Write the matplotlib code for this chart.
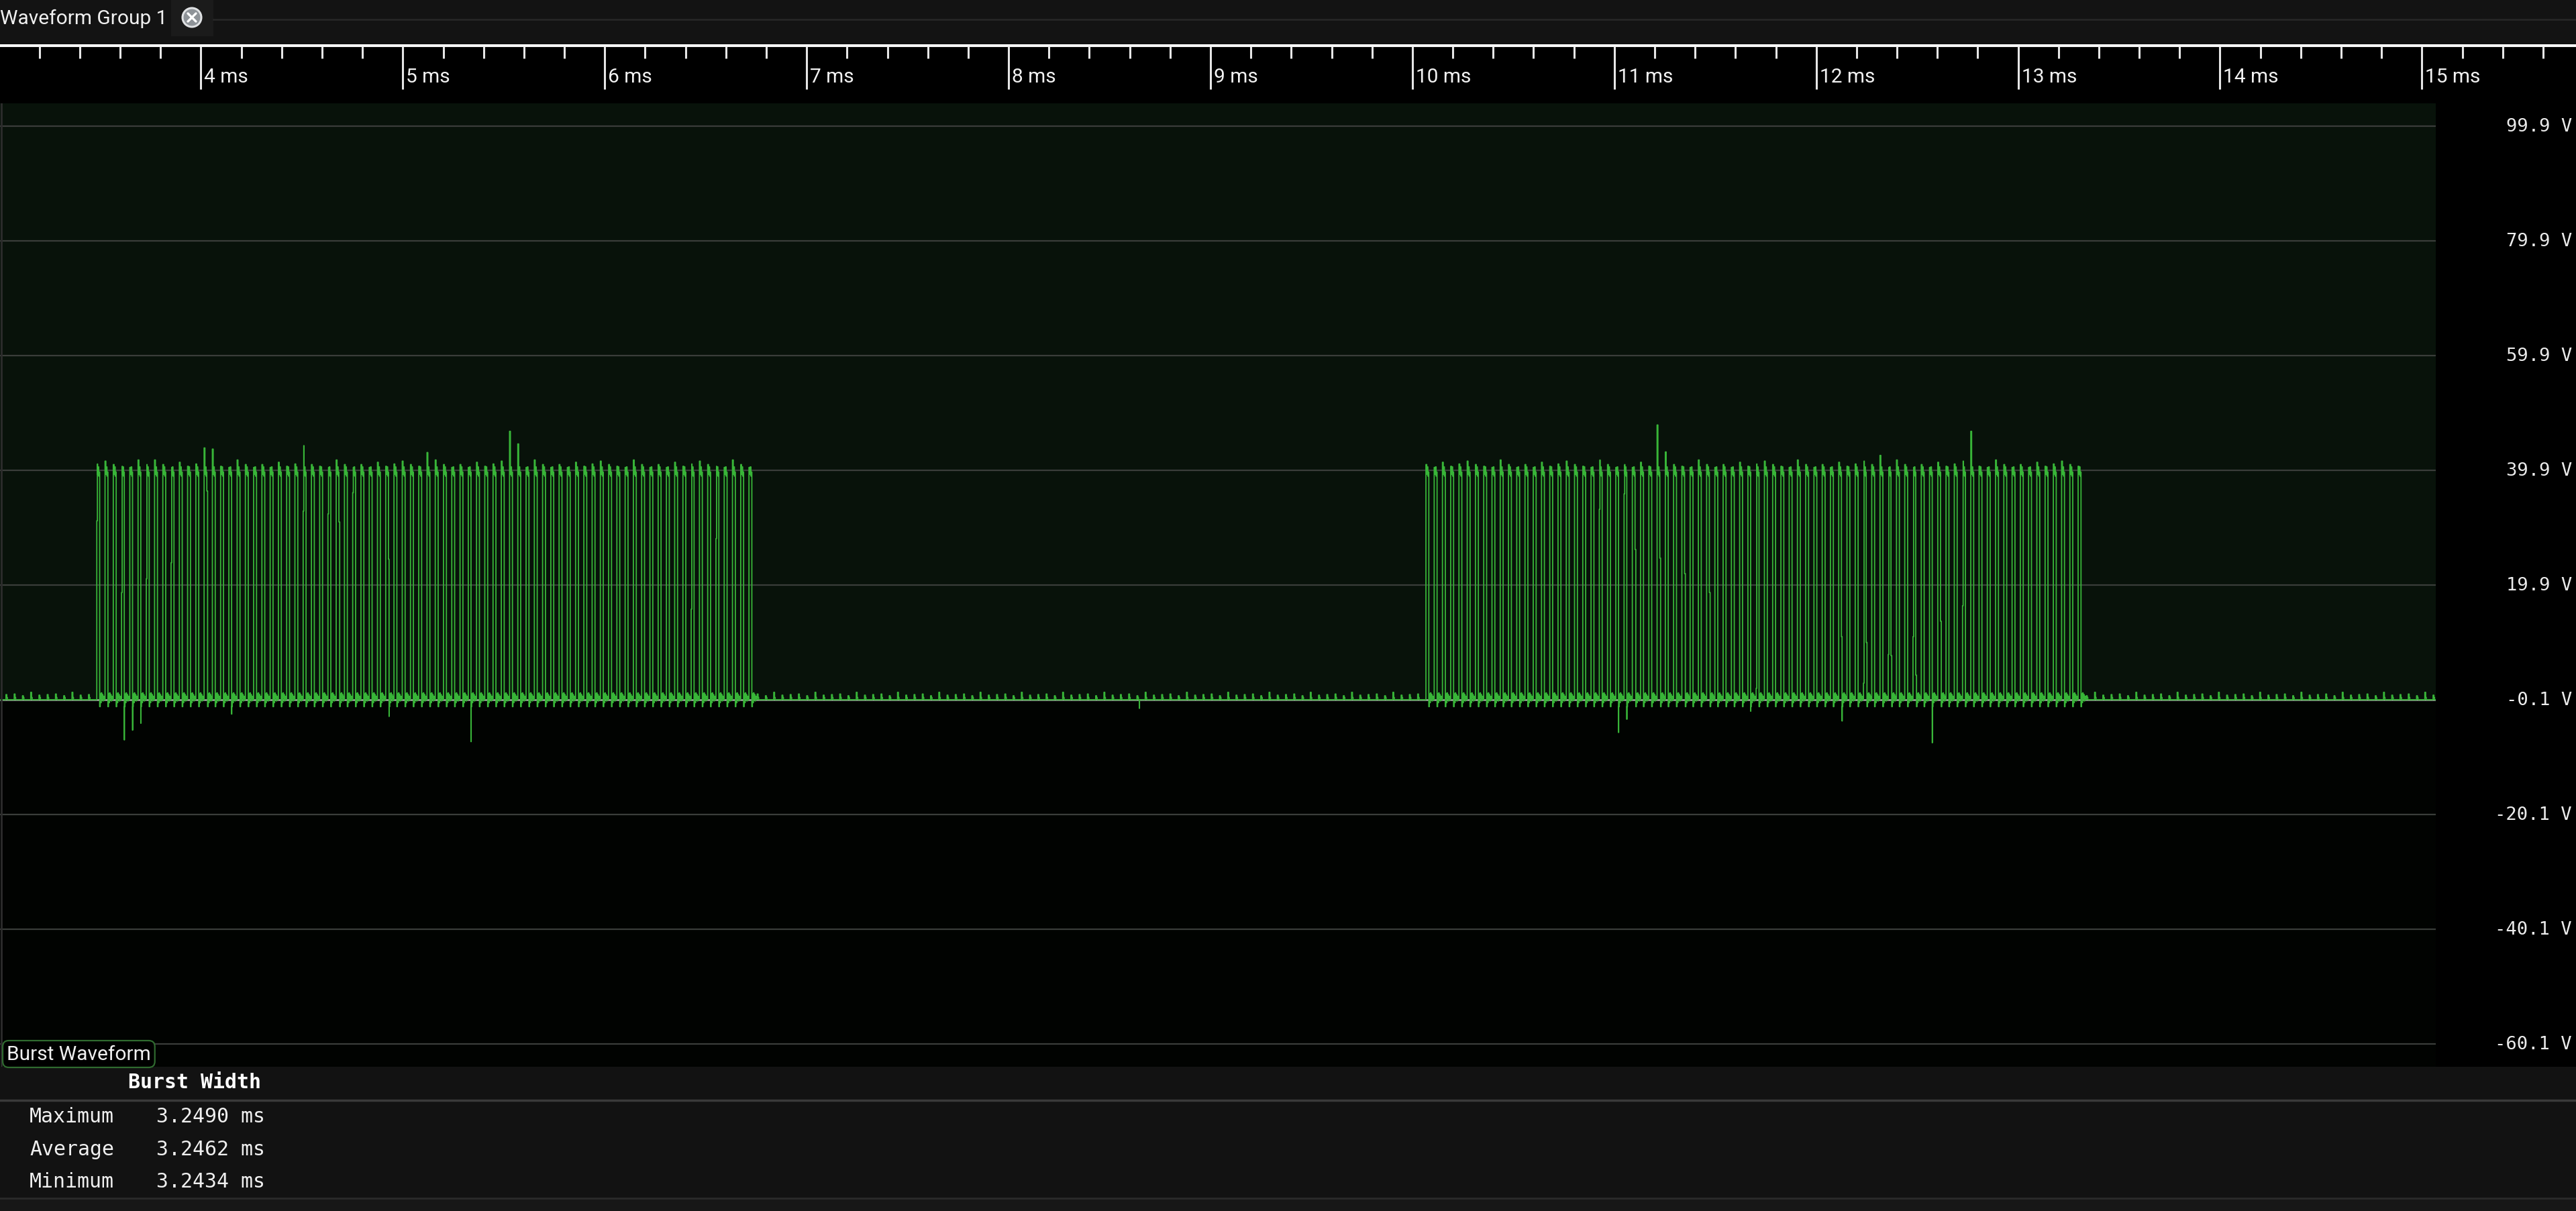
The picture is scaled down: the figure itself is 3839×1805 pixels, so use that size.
import numpy as np
import matplotlib
matplotlib.use('Agg')
import matplotlib.pyplot as plt
from matplotlib.patches import Rectangle, Circle
from matplotlib.transforms import blended_transform_factory

W, H, DPI = 3839, 1806, 100

# ---- values ----
time_ticks_ms = [4, 5, 6, 7, 8, 9, 10, 11, 12, 13, 14, 15]
volt_ticks = [99.9, 79.9, 59.9, 39.9, 19.9, -0.1, -20.1, -40.1, -60.1]

burst_start_ms = [3.484, 10.067]
pulses_per_burst = [80, 80]
carrier_period_ms = 0.040888
pulse_high_ms = 0.0135
base_v = -0.1

# pulse tops (V) seen along burst 1, reused in turn
top_peak_v = [41.0, 41.5, 40.9, 40.6, 40.4, 41.7, 40.9, 40.4, 40.9, 40.4, 41.3, 40.6]
top_ripple_v = [39.2, 40.5, 38.9, 39.6]
ring_v = [-1.3, 0.9, -0.6, 1.1, 0.2, 0.8, -0.3, 0.5]
idle_blip_v = [0.9, 0.6, 1.2, 0.7, 0.8]

# overshoot spikes on pulse tops
spike_ms = [3.766, 4.011, 4.05, 4.503, 5.11, 5.527, 5.567, 11.213, 11.25, 12.32, 12.767]
spike_v = [41.7, 43.8, 43.6, 44.2, 43.0, 46.7, 44.5, 47.8, 43.1, 42.5, 46.7]

# negative spikes after falling edges
dip_ms = [3.614, 3.657, 3.697, 4.147, 4.927, 5.34, 8.64, 11.026, 11.065, 11.68, 12.13, 12.573]
dip_v = [-7.1, -5.4, -4.2, -2.6, -3.0, -7.4, -1.6, -5.8, -3.5, -2.1, -3.8, -7.6]

# edges caught half way by a sample: (burst, pulse index, level)
rise_kink_burst = [0, 0, 0, 0, 0, 0, 0, 0, 0, 1, 1, 1, 1, 1, 1, 1]
rise_kink_pulse = [0, 3, 6, 9, 25, 28, 31, 72, 75, 21, 24, 40, 53, 56, 59, 65]
rise_kink_v = [31.1, 18.6, 21.0, 23.8, 32.8, 32.3, 36.0, 15.7, 28.0, 33.1, 35.8, 1.9, 2.8, 7.8, 10.9, 16.3]
fall_kink_burst = [0, 0, 0, 1, 1, 1, 1, 1, 1, 1, 1, 1]
fall_kink_pulse = [13, 29, 35, 25, 28, 31, 34, 50, 53, 56, 59, 62]
fall_kink_v = [36.3, 30.9, 24.4, 26.1, 24.6, 21.9, 18.6, 10.9, 9.9, 7.6, 4.2, 13.6]

stat_names = ['Maximum', 'Average', 'Minimum']
stat_ms = [3.2490, 3.2462, 3.2434]

# ---- screen geometry (pixels) ----
px_per_ms = 300.9
x_4ms = 299.5
t_left = 4 - x_4ms / px_per_ms
plot_right = 3630
zero_y, px_per_v = 1044, 8.55
plot_top, plot_bot = 155, 1591
v_top = base_v + (zero_y - plot_top) / px_per_v
v_bot = v_top - (plot_bot - plot_top) / px_per_v
t_right = t_left + plot_right / px_per_ms

GREEN = '#38b538'
UI_FONT = 21.5


def px_axes(x0, y0, x1, y1, **kw):
    return fig.add_axes([x0 / W, 1 - y1 / H, (x1 - x0) / W, (y1 - y0) / H], **kw)


def bare(ax):
    ax.set_xticks([])
    ax.set_yticks([])
    for s in ax.spines.values():
        s.set_visible(False)


# ---- build the trace ----
def kink(bursts, pulses, levels, b, i):
    for bb, pp, lv in zip(bursts, pulses, levels):
        if bb == b and pp == i:
            return lv
    return None


T = carrier_period_ms
ts, vs = [t_left], [base_v]
k0 = int(np.floor((t_left - burst_start_ms[0]) / T))
k1 = int(np.ceil((t_right - burst_start_ms[0]) / T))
n_pulse = 0
for k in range(k0, k1 + 1):
    t0 = burst_start_ms[0] + k * T
    hit = None
    for b, (s, n) in enumerate(zip(burst_start_ms, pulses_per_burst)):
        i = int(round((t0 - s) / T))
        if 0 <= i < n:
            hit = (b, i)
            t0 = s + i * T
    dip = None
    for dm, dv in zip(dip_ms, dip_v):
        if t0 <= dm < t0 + T:
            dip = dv
    if hit is None:
        blip = idle_blip_v[k % len(idle_blip_v)]
        ts += [t0, t0 + 0.004, t0 + 0.007]
        vs += [blip, base_v + 0.4, base_v]
        if dip is not None:
            ts += [t0 + 0.012, t0 + 0.0125]
            vs += [dip, base_v]
        continue
    b, i = hit
    peak = top_peak_v[n_pulse % len(top_peak_v)]
    n_pulse += 1
    for sm, sv in zip(spike_ms, spike_v):
        if t0 - T / 2 <= sm < t0 + T / 2:
            peak = sv
    rk = kink(rise_kink_burst, rise_kink_pulse, rise_kink_v, b, i)
    if rk is not None:
        ts += [t0, t0 + 0.003]
        vs += [rk, peak]
    else:
        ts.append(t0)
        vs.append(peak)
    for f, r in zip([0.3, 0.5, 0.7, 0.85], top_ripple_v):
        ts.append(t0 + pulse_high_ms * f)
        vs.append(r)
    t1 = t0 + pulse_high_ms
    fk = kink(fall_kink_burst, fall_kink_pulse, fall_kink_v, b, i)
    if fk is not None:
        ts.append(t1)
        vs.append(fk)
        t1 += 0.003
    if dip is not None:
        ts += [t1, t1 + 0.0008]
        vs += [dip, ring_v[0]]
    for j, r in enumerate(ring_v):
        ts.append(t1 + 0.0026 * (j + 0.3))
        vs.append(r)
    ts.append(t1 + 0.0026 * (len(ring_v) + 0.5))
    vs.append(base_v)

ts = np.array(ts)
vs = np.array(vs)

# ---- figure ----
fig = plt.figure(figsize=(W / DPI, H / DPI), dpi=DPI, facecolor='#131313')

bg = px_axes(0, 0, W, H)
bg.set_xlim(0, W)
bg.set_ylim(H, 0)
bg.axis('off')
bg.add_patch(Rectangle((0, 66), W, plot_bot - 66, fc='black', ec='none'))
bg.add_patch(Rectangle((0, plot_bot), W, 196, fc='#121212', ec='none'))
bg.add_patch(Rectangle((0, 1787), W, H - 1787, fc='#171717', ec='none'))
bg.plot([0, W], [1787, 1787], color='#2a2a2a', lw=2)
bg.plot([0, W], [1641, 1641], color='#3a3a3a', lw=2.5)
bg.plot([318, W], [30, 30], color='#262626', lw=2)
bg.add_patch(Rectangle((255, 0), 63, 55, fc='#1b1b1b', ec='none'))
bg.add_patch(Circle((286, 27), 14, fc='#8e9398', ec='#dfe1e3', lw=2.2))
bg.plot([280, 292], [21, 33], color='white', lw=2.4, solid_capstyle='round')
bg.plot([280, 292], [33, 21], color='white', lw=2.4, solid_capstyle='round')
bg.text(0, 28, 'Waveform Group 1', family='Roboto', fontsize=UI_FONT,
        color='#f0f0f0', ha='left', va='center')
for i, name in enumerate(stat_names):
    y = 1665 + i * 48.5
    bg.text(44, y, name, family='DejaVu Sans Mono', fontsize=21.5,
            color='#f0f0f0', ha='left', va='center')
    bg.text(233, y, f'{stat_ms[i]:.4f} ms', family='DejaVu Sans Mono',
            fontsize=21.5, color='#f0f0f0', ha='left', va='center')
bg.text(191, 1614, 'Burst Width', family='DejaVu Sans Mono', fontsize=21.5,
        weight='bold', color='white', ha='left', va='center')

# time ruler
ru = px_axes(0, 66, W, plot_top)
ru.set_facecolor('black')
bare(ru)
ru.set_xlim(t_left, t_left + W / px_per_ms)
ru.set_ylim(plot_top, 66)
ru.axhline(69, color='white', lw=3)
minor = [m / 5 for m in range(16, 80) if m % 5]
ru.vlines(minor, 70, 88, color='#e6e6e6', lw=2.2)
ru.vlines(time_ticks_ms, 70, 134, color='#e6e6e6', lw=2.2)
for t in time_ticks_ms:
    ru.text(t + 5 / px_per_ms, 115, f'{t} ms', family='Roboto', fontsize=UI_FONT,
            color='#f2f2f2', ha='left', va='center')

# waveform
ax = px_axes(0, plot_top, plot_right, plot_bot)
ax.set_facecolor('#010301')
bare(ax)
ax.set_xlim(t_left, t_right)
ax.set_ylim(v_bot, v_top)
ax.axhspan(base_v, v_top, color='#08120a', lw=0, zorder=0)
ax.hlines([v for v in volt_ticks if v != base_v], t_left, t_right,
          color='#3a3d3a', lw=1.6, zorder=1)
ax.axhline(base_v, color='#a8a8a8', lw=1.8, zorder=2)
ax.plot(ts, vs, drawstyle='steps-post', color=GREEN, lw=1.3, zorder=3)
ax.axvline(t_left + 2 / px_per_ms, color='#2c2c2c', lw=2, zorder=4)

tr = blended_transform_factory(fig.transFigure, ax.transData)
for v in volt_ticks:
    fig.text(3833 / W, v, f'{v:.1f} V', transform=tr, family='DejaVu Sans Mono',
             fontsize=19.5, color='#ececec', ha='right', va='center')

ov = px_axes(0, 0, W, H, zorder=10)
ov.set_xlim(0, W)
ov.set_ylim(H, 0)
ov.axis('off')
ov.text(10, 1572, 'Burst Waveform', family='Roboto', fontsize=UI_FONT,
        color='#f0f0f0', ha='left', va='center',
        bbox=dict(boxstyle='round,pad=0.2,rounding_size=0.3', fc='black',
                  ec='#2f6a2f', lw=1.6))

fig.savefig('out.png', dpi=DPI, facecolor=fig.get_facecolor())
